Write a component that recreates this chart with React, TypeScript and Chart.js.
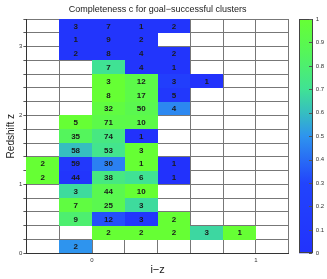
import React, { useEffect, useRef } from 'react';
import { Chart, registerables } from 'chart.js';

Chart.register(...registerables);

const TITLE = 'Completeness c for goal\u2212successful clusters';
const X_TITLE = 'i\u2212z';
const Y_TITLE = 'Redshift z';

// bin centres
const izCenters = [-0.3, -0.1, 0.1, 0.3, 0.5, 0.7, 0.9, 1.1];
const zCenters = [3.3, 3.1, 2.9, 2.7, 2.5, 2.3, 2.1, 1.9, 1.7, 1.5, 1.3, 1.1, 0.9, 0.7, 0.5, 0.3, 0.1];
const binWidthIz = 0.2;
const binWidthZ = 0.2;

// number of clusters per cell (rows from top z to bottom z)
const cellCounts: (number | null)[][] = [
  [null, 3, 7, 1, 2, null, null, null],
  [null, 1, 9, 2, null, null, null, null],
  [null, 2, 8, 4, 2, null, null, null],
  [null, null, 7, 4, 1, null, null, null],
  [null, null, 3, 12, 3, 1, null, null],
  [null, null, 8, 17, 5, null, null, null],
  [null, null, 32, 50, 4, null, null, null],
  [null, 5, 71, 10, null, null, null, null],
  [null, 35, 74, 1, null, null, null, null],
  [null, 58, 53, 3, null, null, null, null],
  [2, 59, 30, 1, 1, null, null, null],
  [2, 44, 38, 6, 1, null, null, null],
  [null, 3, 44, 10, null, null, null, null],
  [null, 7, 25, 3, null, null, null, null],
  [null, 9, 12, 3, 2, null, null, null],
  [null, null, 2, 2, 2, 3, 1, null],
  [null, 2, null, null, null, null, null, null],
];

// completeness per cell (colour)
const cellCompleteness: (number | null)[][] = [
  [null, 0.05, 0.05, 0.05, 0.05, null, null, null],
  [null, 0.05, 0.05, 0.05, null, null, null, null],
  [null, 0.05, 0.05, 0.05, 0.05, null, null, null],
  [null, null, 0.7, 0.05, 0.05, null, null, null],
  [null, null, 1.0, 0.92, 0.2, 0.0, null, null],
  [null, null, 1.0, 0.92, 0.1, null, null, null],
  [null, null, 0.95, 0.9, 0.47, null, null, null],
  [null, 1.0, 0.92, 0.92, null, null, null, null],
  [null, 0.85, 0.75, 0.0, null, null, null, null],
  [null, 0.6, 0.72, 1.0, null, null, null, null],
  [1.0, 0.1, 0.45, 1.0, 0.0, null, null, null],
  [1.0, 0.05, 0.75, 0.7, 0.0, null, null, null],
  [null, 0.68, 0.9, 1.0, null, null, null, null],
  [null, 0.95, 0.9, 0.68, null, null, null, null],
  [null, 0.8, 0.33, 0.08, 1.0, null, null, null],
  [null, null, 1.0, 1.0, 1.0, 0.67, 1.0, null],
  [null, 0.5, null, null, null, null, null, null],
];

const colorbarMin = 0;
const colorbarMax = 1;
const colorbarStep = 0.1;

const FONT = '"Liberation Sans", Arial, Helvetica, sans-serif';

const cmapStops: [number, [number, number, number]][] = [
  [0.0, [34, 50, 252]],
  [0.3, [34, 68, 252]],
  [0.5, [46, 148, 238]],
  [0.6, [54, 190, 192]],
  [0.7, [64, 226, 148]],
  [0.85, [84, 245, 92]],
  [1.0, [102, 255, 52]],
];

function cmap(t: number): string {
  const v = Math.max(0, Math.min(1, t));
  for (let i = 1; i < cmapStops.length; i++) {
    const [t1, c1] = cmapStops[i];
    const [t0, c0] = cmapStops[i - 1];
    if (v <= t1) {
      const f = (v - t0) / (t1 - t0);
      const c = c0.map((a, k) => Math.round(a + (c1[k] - a) * f));
      return `rgb(${c[0]},${c[1]},${c[2]})`;
    }
  }
  const l = cmapStops[cmapStops.length - 1][1];
  return `rgb(${l[0]},${l[1]},${l[2]})`;
}

const isInt = (v: number) => Math.abs(v - Math.round(v)) < 1e-6;

export default function App() {
  const ref = useRef<HTMLCanvasElement>(null);

  useEffect(() => {
    document.body.style.margin = '0';
    const canvas = ref.current;
    if (!canvas) return;

    const points: { x: number; y: number; n: number; c: number }[] = [];
    zCenters.forEach((z, r) => {
      izCenters.forEach((x, c) => {
        const n = cellCounts[r][c];
        const comp = cellCompleteness[r][c];
        if (n != null && comp != null) points.push({ x, y: z, n, c: comp });
      });
    });

    const cellPlugin = {
      id: 'cells',
      beforeDatasetsDraw(chart: any) {
        const { ctx } = chart;
        const xs = chart.scales.x;
        const ys = chart.scales.y;
        ctx.save();
        points.forEach((p) => {
          const x0 = Math.round(xs.getPixelForValue(p.x - binWidthIz / 2));
          const x1 = Math.round(xs.getPixelForValue(p.x + binWidthIz / 2));
          const y0 = Math.round(ys.getPixelForValue(p.y + binWidthZ / 2));
          const y1 = Math.round(ys.getPixelForValue(p.y - binWidthZ / 2));
          ctx.fillStyle = cmap(p.c);
          ctx.fillRect(x0, y0, x1 - x0, y1 - y0);
        });
        ctx.restore();
      },
      afterDraw(chart: any) {
        const { ctx, chartArea } = chart;
        const xs = chart.scales.x;
        const ys = chart.scales.y;
        const cb = chart.scales.cb;
        ctx.save();
        // numbers
        ctx.font = `bold 8px ${FONT}`;
        ctx.fillStyle = '#1a1a1a';
        ctx.textAlign = 'center';
        ctx.textBaseline = 'middle';
        points.forEach((p) => {
          ctx.fillText(String(p.n), xs.getPixelForValue(p.x), ys.getPixelForValue(p.y) + 0.5);
        });
        // title
        ctx.font = `9px ${FONT}`;
        ctx.fillStyle = '#222';
        ctx.textBaseline = 'alphabetic';
        ctx.fillText(TITLE, (chartArea.left + chartArea.right) / 2, 12);
        // colorbar
        const bx = Math.round(chartArea.right + 10.5);
        const bw = 14;
        const yTop = cb.getPixelForValue(colorbarMax);
        const yBot = cb.getPixelForValue(colorbarMin);
        const grad = ctx.createLinearGradient(0, yBot, 0, yTop);
        cmapStops.forEach(([t]) => grad.addColorStop(t, cmap(t)));
        ctx.fillStyle = grad;
        ctx.fillRect(bx, yTop, bw, yBot - yTop);
        ctx.strokeStyle = '#444';
        ctx.lineWidth = 1;
        ctx.strokeRect(bx + 0.5, Math.round(yTop) + 0.5, bw - 1, Math.round(yBot - yTop) - 1);
        ctx.strokeStyle = '#555';
        cb.ticks.forEach((t: any) => {
          const y = Math.round(cb.getPixelForValue(t.value)) + 0.5;
          ctx.beginPath();
          ctx.moveTo(bx + bw - 4, y);
          ctx.lineTo(bx + bw - 1, y);
          ctx.stroke();
        });
        ctx.restore();
      },
    };

    const chart = new Chart(canvas, {
      type: 'scatter',
      data: {
        datasets: [
          {
            data: points.map((p) => ({ x: p.x, y: p.y })),
            pointRadius: 0,
            pointHoverRadius: 0,
            xAxisID: 'x',
            yAxisID: 'y',
          },
        ],
      },
      options: {
        responsive: false,
        animation: false,
        devicePixelRatio: 1,
        events: [],
        layout: { padding: { top: 19, left: 0, right: 0, bottom: 0 } },
        plugins: {
          legend: { display: false },
          title: { display: false },
          tooltip: { enabled: false },
        },
        scales: {
          x: {
            type: 'linear',
            position: 'bottom',
            min: -0.4,
            max: 1.2,
            z: 1,
            ticks: {
              stepSize: binWidthIz,
              autoSkip: false,
              maxRotation: 0,
              maxTicksLimit: 100,
              padding: 3,
              color: '#333',
              font: { size: 6, family: FONT },
              callback: (v: any) => (isInt(Number(v)) ? String(Math.round(Number(v))) : ''),
            },
            grid: { color: '#777', lineWidth: 1, drawTicks: false },
            border: { color: '#333' },
            title: { display: true, text: X_TITLE, color: '#222', font: { size: 11, family: FONT }, padding: { top: 0, bottom: 2 } },
            afterFit: (s: any) => {
              s.height = 25.7;
              s.paddingLeft = 0;
              s.paddingRight = 0;
            },
          },
          y: {
            type: 'linear',
            position: 'left',
            min: 0,
            max: 3.4,
            z: 1,
            ticks: {
              stepSize: binWidthZ,
              autoSkip: false,
              maxTicksLimit: 100,
              padding: 1,
              color: '#333',
              font: { size: 6, family: FONT },
              callback: (v: any) => (isInt(Number(v)) ? String(Math.round(Number(v))) : ''),
            },
            grid: { color: '#777', lineWidth: 1, drawTicks: true, tickLength: 3, tickColor: '#555' },
            border: { color: '#333' },
            title: { display: true, text: Y_TITLE, color: '#222', font: { size: 10, family: FONT }, padding: { top: 5, bottom: 0 } },
            afterFit: (s: any) => {
              s.width = 26.4;
              s.paddingTop = 0;
              s.paddingBottom = 0;
            },
          },
          cb: {
            type: 'linear',
            position: 'right',
            min: colorbarMin,
            max: colorbarMax,
            ticks: {
              stepSize: colorbarStep,
              autoSkip: false,
              maxTicksLimit: 100,
              padding: 27,
              color: '#333',
              font: { size: 6, family: FONT },
              callback: (v: any) => String(Math.round(Number(v) * 10) / 10),
            },
            grid: { display: false, drawTicks: false },
            border: { display: false },
            afterFit: (s: any) => {
              s.width = 38.2;
              s.paddingTop = 0;
              s.paddingBottom = 0;
            },
          },
        },
      },
      plugins: [cellPlugin],
    } as any);

    return () => chart.destroy();
  }, []);

  return (
    <div style={{ position: 'fixed', left: 0, top: 0, width: 327, height: 279, background: '#fff' }}>
      <canvas ref={ref} width={327} height={279} style={{ display: 'block', width: 327, height: 279 }} />
    </div>
  );
}
